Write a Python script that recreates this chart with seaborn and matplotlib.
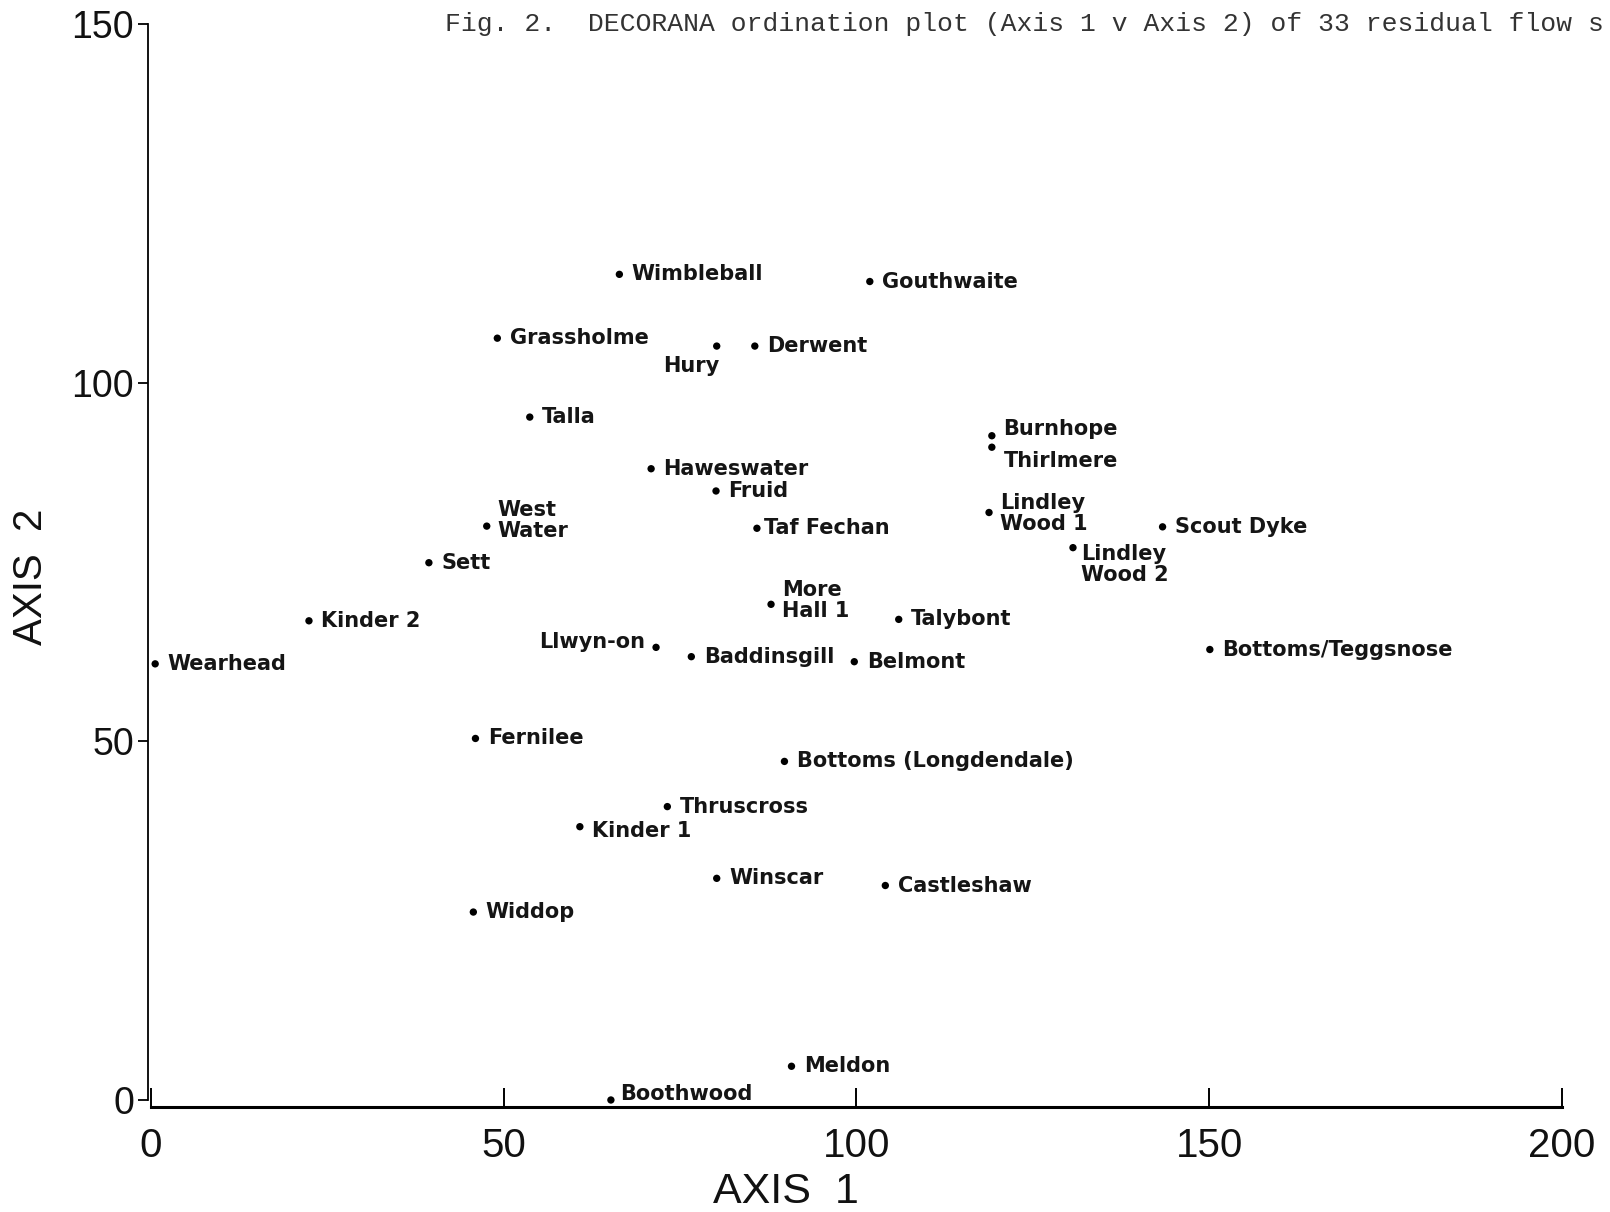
import pandas as pd
import seaborn as sns
import matplotlib.pyplot as plt

# DECORANA scores
sites = ["Wimbleball", "Gouthwaite", "Grassholme", "Hury", "Derwent", "Talla",
         "Burnhope", "Thirlmere", "Haweswater", "Fruid", "West\nWater", "Taf Fechan",
         "Lindley\nWood 1", "Scout Dyke", "Lindley\nWood 2", "Sett", "More\nHall 1",
         "Kinder 2", "Talybont", "Llwyn-on", "Bottoms/Teggsnose", "Baddinsgill",
         "Belmont", "Wearhead", "Fernilee", "Bottoms (Longdendale)", "Thruscross",
         "Kinder 1", "Winscar", "Castleshaw", "Widdop", "Meldon", "Boothwood"]
axis1 = [66.4, 101.9, 49.1, 80.2, 85.6, 53.7,
         119.2, 119.2, 70.9, 80.1, 47.6, 85.9,
         118.8, 143.4, 130.7, 39.4, 87.9,
         22.4, 106.0, 71.6, 150.1, 76.6,
         99.7, 0.6, 46.0, 89.8, 73.2,
         60.8, 80.2, 104.1, 45.7, 90.8, 65.2]
axis2 = [115.1, 114.1, 106.2, 105.1, 105.1, 95.2,
         92.6, 91.0, 88.0, 84.9, 80.0, 79.7,
         81.9, 79.9, 77.0, 74.9, 69.1,
         66.8, 67.0, 63.1, 62.8, 61.8,
         61.1, 60.8, 50.4, 47.2, 40.9,
         38.1, 30.9, 29.9, 26.2, 4.7, 0.0]

df = pd.DataFrame({"site": sites, "axis1": axis1, "axis2": axis2})

# label placement (offset in points, horizontal alignment)
label_pos = {
    "Hury": (-18, -14, "center"),
    "Llwyn-on": (-8, 4, "right"),
    "West\nWater": (8, 4, "left"),
    "Lindley\nWood 1": (8, -1, "left"),
    "Lindley\nWood 2": (6, -12, "left"),
    "More\nHall 1": (8, 3, "left"),
    "Burnhope": (8, 5, "left"),
    "Thirlmere": (9, -10, "left"),
    "Boothwood": (7, 4, "left"),
    "Taf Fechan": (5, 0, "left"),
    "Kinder 1": (9, -3, "left"),
}

sns.set_style("white")
plt.rcParams["font.family"] = ["DejaVu Sans"]

fig = plt.figure(figsize=(16.1, 12.12), dpi=100)
ax = fig.add_axes([0.0920, 0.0865, 0.8781, 0.8937])

sns.scatterplot(data=df, x="axis1", y="axis2", color="black", s=28,
                edgecolor="none", ax=ax, legend=False)

for _, row in df.iterrows():
    dx, dy, ha = label_pos.get(row["site"], (9, 0, "left"))
    ax.annotate(row["site"], (row["axis1"], row["axis2"]), xytext=(dx, dy),
                textcoords="offset points", ha=ha, va="center",
                fontsize=15, fontweight="bold", color="#151515",
                linespacing=1.05)

ax.set_xlim(-0.4, 200)
ax.set_ylim(-1, 150)
sns.despine(ax=ax)
ax.spines["left"].set_bounds(0, 150)
ax.spines["bottom"].set_bounds(0, 200)
for sp in ax.spines.values():
    sp.set_color("black")
ax.spines["left"].set_linewidth(1.3)
ax.spines["bottom"].set_linewidth(2.2)

sans = ["Liberation Sans", "DejaVu Sans"]
ax.set_xticks([0, 50, 100, 150, 200])
ax.set_yticks([0, 50, 100, 150])
ax.tick_params(axis="x", direction="in", length=14, width=1.4, pad=14,
               bottom=True, color="black")
ax.tick_params(axis="y", direction="out", length=7, width=1.3, pad=3,
               left=True, color="black")
for lab in ax.get_xticklabels():
    lab.set_family(sans)
    lab.set_fontsize(29)
    lab.set_color("#111111")
for lab in ax.get_yticklabels():
    lab.set_family(sans)
    lab.set_fontsize(27)
    lab.set_color("#111111")

ax.set_xlabel("AXIS  1", family=sans, fontsize=31, color="#111111")
ax.xaxis.label.set_va("center")
ax.xaxis.set_label_coords(0.451, -0.078)
ax.set_ylabel("AXIS  2", family=sans, fontsize=29, color="#111111")
ax.yaxis.label.set_va("center")
ax.yaxis.set_label_coords(-0.083, 0.49)

fig.text(0.2765, 0.990,
         "Fig. 2.  DECORANA ordination plot (Axis 1 v Axis 2) of 33 residual flow s",
         family=["Liberation Mono", "DejaVu Sans Mono"], fontsize=19,
         color="#333333", ha="left", va="top")

fig.savefig("out.png", dpi=100)
